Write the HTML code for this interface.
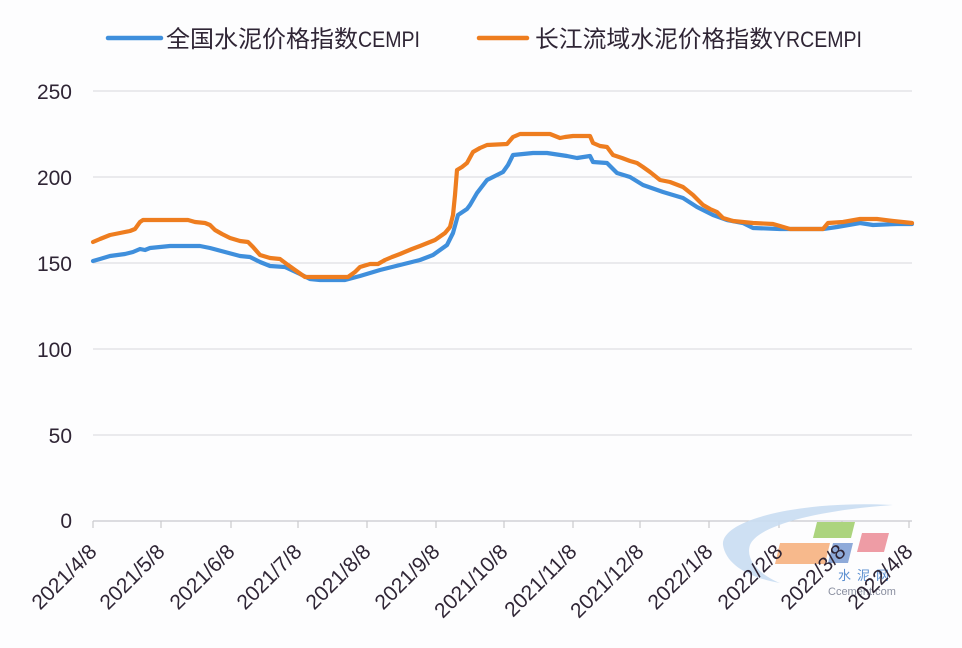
<!DOCTYPE html>
<html><head><meta charset="utf-8"><style>
html,body{margin:0;padding:0;background:#fdfdfe;}
svg{display:block;}
</style></head><body>
<svg width="962" height="648" viewBox="0 0 962 648" xmlns="http://www.w3.org/2000/svg">
<rect x="0" y="0" width="962" height="648" fill="#fdfdfe"/>
<!-- legend -->
<line x1="108" y1="38" x2="161" y2="38" stroke="#3f8fdc" stroke-width="4.5" stroke-linecap="round"/>
<text x="166" y="47" font-family="'Liberation Sans','Noto Sans CJK SC',sans-serif" font-size="23.5" fill="#2f2535" textLength="192" lengthAdjust="spacingAndGlyphs">全国水泥价格指数</text>
<text x="358" y="47" font-family="'Liberation Sans',sans-serif" font-size="22" fill="#2f2535" textLength="62" lengthAdjust="spacingAndGlyphs">CEMPI</text>
<line x1="479" y1="38" x2="527" y2="38" stroke="#ee7d1f" stroke-width="4.5" stroke-linecap="round"/>
<text x="535" y="47" font-family="'Liberation Sans','Noto Sans CJK SC',sans-serif" font-size="23.5" fill="#2f2535" textLength="238" lengthAdjust="spacingAndGlyphs">长江流域水泥价格指数</text>
<text x="773" y="47" font-family="'Liberation Sans',sans-serif" font-size="22" fill="#2f2535" textLength="89" lengthAdjust="spacingAndGlyphs">YRCEMPI</text>

<!-- gridlines -->
<g stroke="#d8d8dc" stroke-width="1">
<line x1="93" y1="91" x2="912" y2="91"/>
<line x1="93" y1="177" x2="912" y2="177"/>
<line x1="93" y1="263" x2="912" y2="263"/>
<line x1="93" y1="349" x2="912" y2="349"/>
<line x1="93" y1="435" x2="912" y2="435"/>
</g>
<g stroke="#c9c9cd" stroke-width="1.2">
<line x1="93" y1="521" x2="912" y2="521"/>
<line x1="93" y1="521" x2="93" y2="528"/>
<line x1="161" y1="521" x2="161" y2="528"/>
<line x1="231" y1="521" x2="231" y2="528"/>
<line x1="298" y1="521" x2="298" y2="528"/>
<line x1="367" y1="521" x2="367" y2="528"/>
<line x1="436" y1="521" x2="436" y2="528"/>
<line x1="504" y1="521" x2="504" y2="528"/>
<line x1="573" y1="521" x2="573" y2="528"/>
<line x1="640" y1="521" x2="640" y2="528"/>
<line x1="709" y1="521" x2="709" y2="528"/>
<line x1="779" y1="521" x2="779" y2="528"/>
<line x1="842" y1="521" x2="842" y2="528"/>
<line x1="909" y1="521" x2="909" y2="528"/>
</g>

<!-- y labels -->
<g font-family="'Liberation Sans',sans-serif" font-size="21" fill="#2f2535" text-anchor="end">
<text x="72" y="99">250</text>
<text x="72" y="185">200</text>
<text x="72" y="271">150</text>
<text x="72" y="357">100</text>
<text x="72" y="443">50</text>
<text x="72" y="528">0</text>
</g>

<!-- watermark -->
<g>
<path d="M893,505 C800,500 720,520 723,545 C726,565 750,578 780,583 C760,575 745,560 750,545 C758,525 820,510 893,505 Z" fill="#c9ddf2" opacity="0.9"/>
<polygon points="817,522 855,522 851,538 813,538" fill="#acd47e"/>
<polygon points="780,543 830,543 825,564 775,564" fill="#f7b98c"/>
<polygon points="833,543 853,543 848,563 828,563" fill="#8eaad9"/>
<polygon points="862,533 889,533 884,552 857,552" fill="#ee9ca5"/>
<text x="838" y="580" font-family="'Liberation Sans','Noto Sans CJK SC',sans-serif" font-size="13" fill="#5b8fd0" letter-spacing="6">水泥网</text>
<text x="828" y="595" font-family="'Liberation Sans',sans-serif" font-size="11" fill="#8a8fa0">Ccement.com</text>
</g>

<!-- series -->
<polyline fill="none" stroke="#3f8fdc" stroke-width="4.2" stroke-linejoin="round" stroke-linecap="round" points="93,261 100,259 110,256 125,254 133,252 140,249 145,250 150,248 170,246 200,246 210,248 225,252 240,256 250,257 260,262 270,266 285,267 300,274 310,279 320,280 345,280 360,276 380,270 400,265 420,260 433,255 447,245 453,233 458,215 467,209 470,205 477,193 487,180 503,172 508,165 513,155 533,153 547,153 567,156 577,158 590,156 593,162 607,163 617,173 630,177 643,185 663,192 683,198 697,207 713,215 727,220 743,223 753,228 780,229 823,229 837,227 860,223 873,225 897,224 912,224"/>
<polyline fill="none" stroke="#ee7d1f" stroke-width="4.2" stroke-linejoin="round" stroke-linecap="round" points="93,242 100,239 110,235 120,233 130,231 135,229 140,222 143,220 188,220 195,222 205,223 210,225 215,230 222,234 230,238 240,241 248,242 253,247 260,255 270,258 280,259 288,265 295,270 305,277 348,277 355,272 360,267 370,264 378,264 385,260 392,257 400,254 412,249 420,246 435,240 445,233 450,227 453,215 455,195 457,170 462,167 467,163 473,152 480,148 487,145 507,144 513,137 520,134 550,134 560,138 565,137 573,136 590,136 593,143 600,146 607,147 613,155 622,158 630,161 637,163 643,167 650,172 660,180 670,182 683,187 693,195 703,205 710,209 717,212 723,218 733,221 753,223 773,224 780,226 790,229 823,229 828,223 843,222 860,219 877,219 893,221 912,223"/>

<!-- x labels -->
<g font-family="'Liberation Sans',sans-serif" font-size="21" fill="#2f2535" text-anchor="end">
<text transform="translate(98,553) rotate(-45)">2021/4/8</text>
<text transform="translate(166,553) rotate(-45)">2021/5/8</text>
<text transform="translate(236,553) rotate(-45)">2021/6/8</text>
<text transform="translate(303,553) rotate(-45)">2021/7/8</text>
<text transform="translate(372,553) rotate(-45)">2021/8/8</text>
<text transform="translate(441,553) rotate(-45)">2021/9/8</text>
<text transform="translate(509,553) rotate(-45)">2021/10/8</text>
<text transform="translate(578,553) rotate(-45)">2021/11/8</text>
<text transform="translate(645,553) rotate(-45)">2021/12/8</text>
<text transform="translate(714,553) rotate(-45)">2022/1/8</text>
<text transform="translate(784,553) rotate(-45)">2022/2/8</text>
<text transform="translate(847,553) rotate(-45)">2022/3/8</text>
<text transform="translate(914,553) rotate(-45)">2022/4/8</text>
</g>
</svg>
</body></html>
